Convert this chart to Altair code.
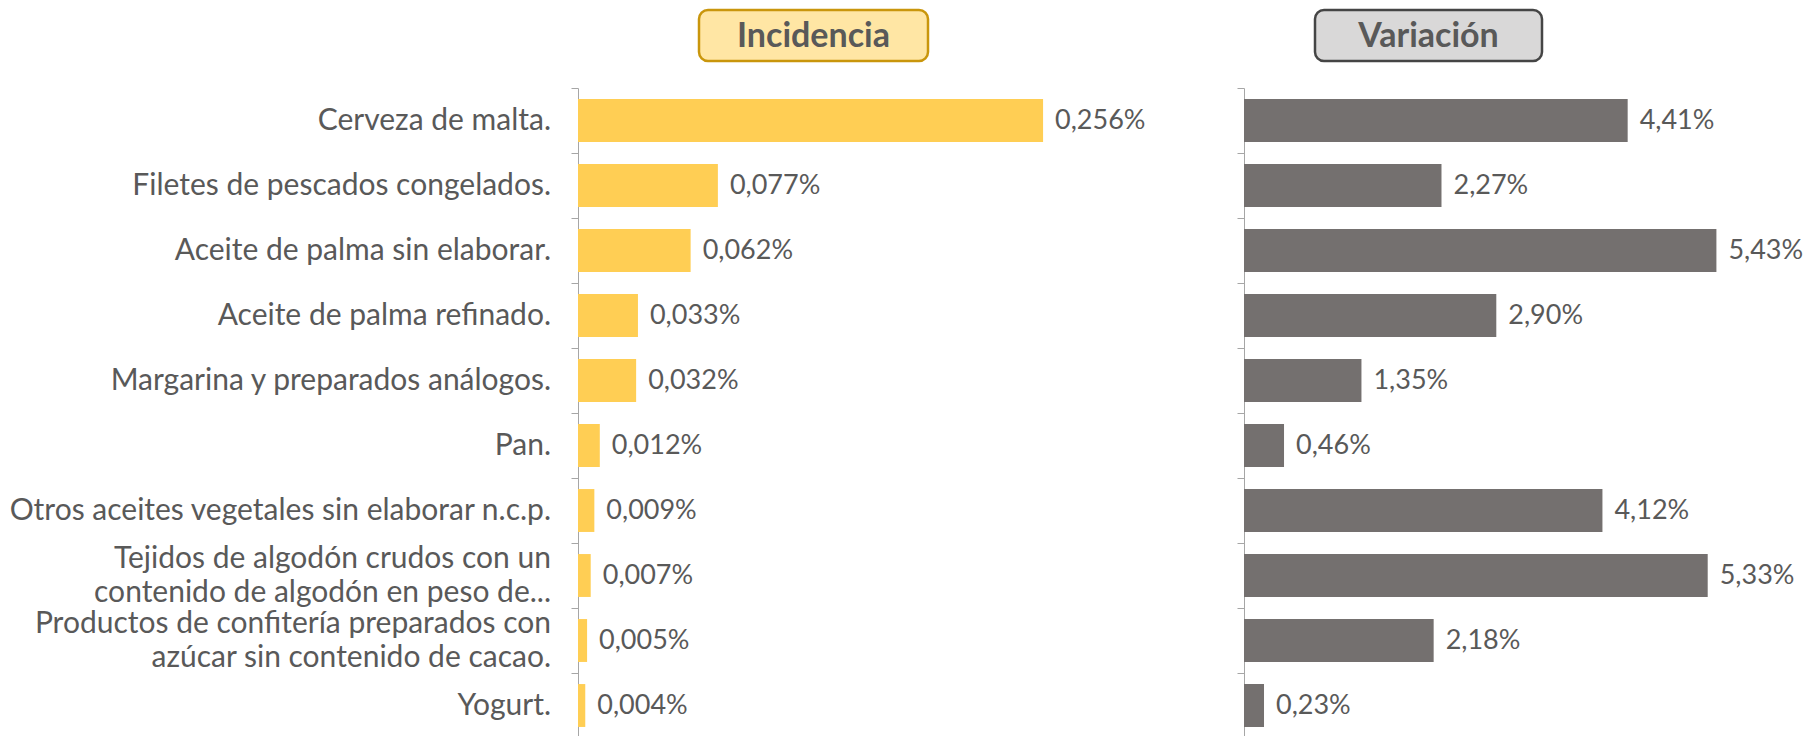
import altair as alt
import pandas as pd

categorias = [
    "Cerveza de malta.",
    "Filetes de pescados congelados.",
    "Aceite de palma sin elaborar.",
    "Aceite de palma refinado.",
    "Margarina y preparados análogos.",
    "Pan.",
    "Otros aceites vegetales sin elaborar n.c.p.",
    "Tejidos de algodón crudos con un|contenido de algodón en peso de...",
    "Productos de confitería preparados con|azúcar sin contenido de cacao.",
    "Yogurt.",
]
incidencia = [0.256, 0.077, 0.062, 0.033, 0.032, 0.012, 0.009, 0.007, 0.005, 0.004]
variacion = [4.41, 2.27, 5.43, 2.90, 1.35, 0.46, 4.12, 5.33, 2.18, 0.23]
titulos = ["Incidencia", "Variación"]

df = pd.DataFrame({"cat": categorias, "inc": incidencia, "var": variacion})

FONT = "Lato"
TXT = "#595959"
AXC = "#A6A6A6"
FS_LAB = 30
FS_VAL = 27
H = 650

Y_AXIS = alt.Axis(title=None, labels=False, tickSize=7, tickColor=AXC,
                  domainColor=AXC, tickBand="extent", grid=False)


def yenc():
    return alt.Y("cat:N", sort=categorias,
                 scale=alt.Scale(paddingInner=0, paddingOuter=0),
                 axis=Y_AXIS)


def panel(field, fmt, dmax, width, color, title, box_x0, box_x1, fill, stroke,
          with_labels):
    base = alt.Chart(df)
    xenc = alt.X(f"{field}:Q", scale=alt.Scale(domain=[0, dmax]), axis=None)
    bars = base.mark_bar(color=color, height={"band": 0.66}).encode(
        x=xenc, y=yenc(),
    )
    labels = base.transform_calculate(
        lbl=f"replace(format(datum.{field}, '{fmt}'), '.', ',') + '%'"
    ).mark_text(align="left", baseline="middle", dx=12, font=FONT,
                fontSize=FS_VAL, color=TXT).encode(
        x=xenc, y=yenc(), text="lbl:N",
    )
    tdata = alt.Data(values=[{"t": title}])
    box = alt.Chart(tdata).mark_rect(
        cornerRadius=9, fill=fill, stroke=stroke, strokeWidth=2.5
    ).encode(x=alt.value(box_x0), x2=alt.value(box_x1),
             y=alt.value(-78), y2=alt.value(-27))
    btxt = alt.Chart(tdata).mark_text(
        font=FONT, fontSize=34, fontWeight="bold", color=TXT, baseline="middle"
    ).encode(x=alt.value((box_x0 + box_x1) / 2), y=alt.value(-51), text="t:N")
    layers = [bars, labels]
    if with_labels:
        cat1 = base.transform_filter(
            "indexof(datum.cat, '|') < 0"
        ).mark_text(align="right", baseline="middle", font=FONT,
                    fontSize=FS_LAB, color=TXT).encode(
            x=alt.value(-27), y=yenc(), text="cat:N")
        cat2 = base.transform_filter(
            "indexof(datum.cat, '|') >= 0"
        ).transform_calculate(
            lines="split(datum.cat, '|')"
        ).mark_text(align="right", baseline="middle", font=FONT,
                    fontSize=FS_LAB, color=TXT, lineHeight=34,
                    dy=-17).encode(
            x=alt.value(-27), y=yenc(), text="lines:N")
        layers += [cat1, cat2]
    layers += [box, btxt]
    return alt.layer(*layers).properties(width=width, height=H)


left = panel("inc", ".3f", 0.3, 545, "#FFCE54", titulos[0], 121, 350,
             "#FFE6A4", "#C9960C", True)
right = panel("var", ".2f", 6, 522, "#74706F", titulos[1], 71, 298,
              "#D9D8D8", "#454545", False)

chart = alt.hconcat(left, right, spacing=121, bounds="flush").properties(
    padding={"left": 0, "top": 0, "right": 0, "bottom": 0},
    background="white",
).configure_view(stroke=None)

chart.save("out.html", embed_options={"renderer": "svg", "actions": False})
